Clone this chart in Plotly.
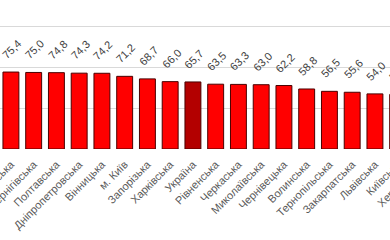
import plotly.graph_objects as go

regions = ["Сумська", "Чернігівська", "Полтавська", "Дніпропетровська", "Вінницька",
           "м. Київ", "Запорізька", "Харківська", "Україна", "Рівненська", "Черкаська",
           "Миколаївська", "Чернівецька", "Волинська", "Тернопільська", "Закарпатська",
           "Львівська", "Київська", "Херсонська"]
values = [75.4, 75.0, 74.8, 74.3, 74.2, 71.2, 68.7, 66.0, 65.7, 63.5, 63.3,
          63.0, 62.2, 58.8, 56.5, 55.6, 54.0, 53.5, 51.0]
highlight = "Україна"

colors = ["#b30000" if r == highlight else "#ff0000" for r in regions]
labels = [f"{v:.1f}".replace(".", ",") for v in values]

fig = go.Figure()
fig.add_trace(go.Bar(
    x=regions, y=values,
    marker=dict(color=colors, line=dict(color="#4a0000", width=1)),
    hoverinfo="skip",
))
for r, v, t in zip(regions, values, labels):
    fig.add_annotation(x=r, y=v, text=t, showarrow=False, textangle=-45,
                       xanchor="center", yanchor="middle", yshift=23, xshift=1,
                       font=dict(family="Liberation Sans", size=11, color="#404040"))

fig.update_layout(
    width=440, height=240,
    margin=dict(l=0, r=0, t=0, b=91, autoexpand=False),
    plot_bgcolor="white", paper_bgcolor="white",
    bargap=0.30, showlegend=False,
    xaxis=dict(range=[-0.48, 18.86], tickangle=-45, showgrid=False, showline=False,
               automargin=False, ticks="", ticklabelstandoff=6,
               tickfont=dict(family="Liberation Sans", size=11, color="#595959")),
    yaxis=dict(range=[0, 146], dtick=40, showticklabels=False, gridcolor="#d9d9d9",
               gridwidth=1, zeroline=False, showline=False, automargin=False),
)

fig.write_html("out.html",
               post_script="document.documentElement.style.overflow='hidden';document.body.style.overflow='hidden';")
